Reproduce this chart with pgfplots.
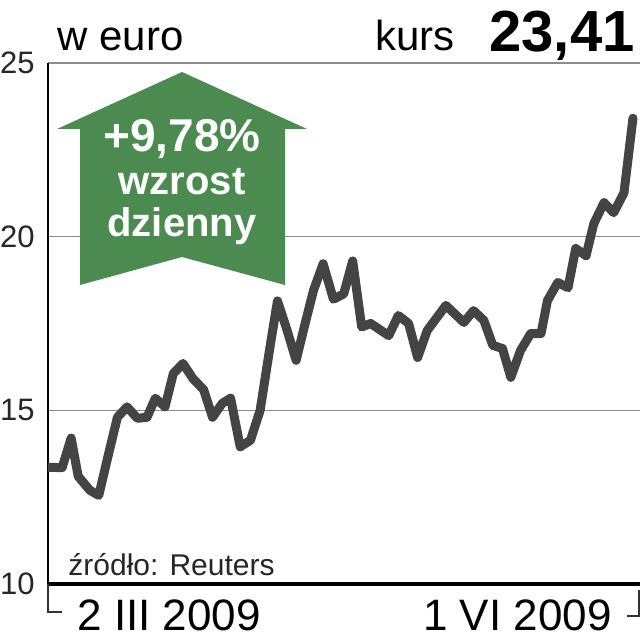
\documentclass[border=0pt]{standalone}
\usepackage{fontspec}
\setmainfont{Liberation Sans}
\usepackage{xcolor}
\usepackage{tikz}
\usepackage{pgfplots}
\pgfplotsset{compat=1.18}
\definecolor{ink}{HTML}{444444}
\definecolor{grn}{HTML}{4B8B4F}
\definecolor{gridc}{HTML}{8C8C8C}

% kurs dzienny, dni od 2 III 2009
\pgfplotstableread{
d v
0 13.36
2.2 13.35
3.6 14.2
4.7 13.1
6.5 12.7
7.9 12.55
9.3 13.65
10.8 14.8
12.3 15.1
13.9 14.77
15.4 14.8
16.7 15.35
18.2 15.1
19.5 16.06
21.0 16.35
22.6 15.9
24.2 15.6
25.6 14.8
27.1 15.2
28.4 15.35
29.9 13.95
31.5 14.14
33.0 15.0
34.6 16.9
35.7 18.15
37.2 17.3
38.6 16.44
40.0 17.5
41.3 18.45
42.8 19.22
44.4 18.2
46.0 18.35
47.4 19.3
48.8 17.4
50.2 17.5
53.0 17.15
54.5 17.73
56.1 17.5
57.5 16.52
59.0 17.3
61.9 18.02
64.7 17.53
66.2 17.87
67.8 17.59
69.2 16.87
70.7 16.78
72.0 15.95
73.5 16.72
75.1 17.21
76.7 17.21
77.7 18.16
79.3 18.68
80.9 18.53
82.1 19.66
83.7 19.45
84.9 20.37
86.5 20.98
88.0 20.69
89.6 21.26
91.0 23.41
}\kurs

\begin{document}
\begin{tikzpicture}
\path[use as bounding box] (-24pt,-28pt) rectangle (296pt,292pt);
\begin{axis}[
  scale only axis,
  width=296pt,
  height=260.5pt,
  xmin=0, xmax=92.1,
  ymin=10, ymax=25,
  xtick=\empty,
  ytick={10,15,20,25},
  axis lines*=left,
  x axis line style={draw=black,line width=1.6pt},
  y axis line style={draw=black,line width=0.6pt},
  ymajorgrids,
  grid style={draw=gridc,line width=0.6pt},
  major tick length=0pt,
  /pgf/number format/assume math mode=true,
  yticklabel style={font=\fontsize{15.5}{16}\selectfont,text=black!85,inner sep=0pt,xshift=-6.5pt},
]
\addplot[ink,line width=4.5pt,line join=round,line cap=round] table[x=d,y=v] {\kurs};
\end{axis}
% strzalka
\fill[grn] (67pt,256pt) -- (129.5pt,227.5pt) -- (118.5pt,227.5pt) -- (118.5pt,149.5pt) -- (67pt,163.5pt)
  -- (16pt,149.5pt) -- (16pt,227.5pt) -- (4.5pt,227.5pt) -- cycle;
\node[anchor=base,text=white,font=\bfseries\fontsize{23}{23}\selectfont,inner sep=0pt] at (67pt,216pt) {+9,78\%};
\node[anchor=base,text=white,font=\bfseries\fontsize{20}{20}\selectfont,inner sep=0pt] at (67pt,194.5pt) {wzrost};
\node[anchor=base,text=white,font=\bfseries\fontsize{20}{20}\selectfont,inner sep=0pt] at (67pt,173.5pt) {dzienny};
% opisy
\node[anchor=base west,inner sep=0pt,font=\fontsize{21}{21}\selectfont] at (4.5pt,266.5pt) {w euro};
\node[anchor=base west,inner sep=0pt,font=\fontsize{21}{21}\selectfont] at (163.5pt,266.5pt) {kurs};
\node[anchor=base east,inner sep=0pt,font=\bfseries\fontsize{29}{29}\selectfont] at (293.5pt,266pt) {23,41};
\node[anchor=base west,inner sep=0pt,font=\fontsize{15}{15}\selectfont,text=black!85] at (10pt,4.5pt) {źródło: Reuters};
\node[anchor=base west,inner sep=0pt,font=\fontsize{22}{22}\selectfont] at (14.5pt,-23pt) {2 III 2009};
\node[anchor=base east,inner sep=0pt,font=\fontsize{22}{22}\selectfont] at (282pt,-23pt) {1 VI 2009};
\draw[black!80,line width=0.7pt] (0,0) -- (0,-14pt) -- (7pt,-14pt);
\draw[black!80,line width=0.7pt] (295.5pt,-3pt) -- (295.5pt,-16pt) -- (289.5pt,-16pt);
\end{tikzpicture}
\end{document}
